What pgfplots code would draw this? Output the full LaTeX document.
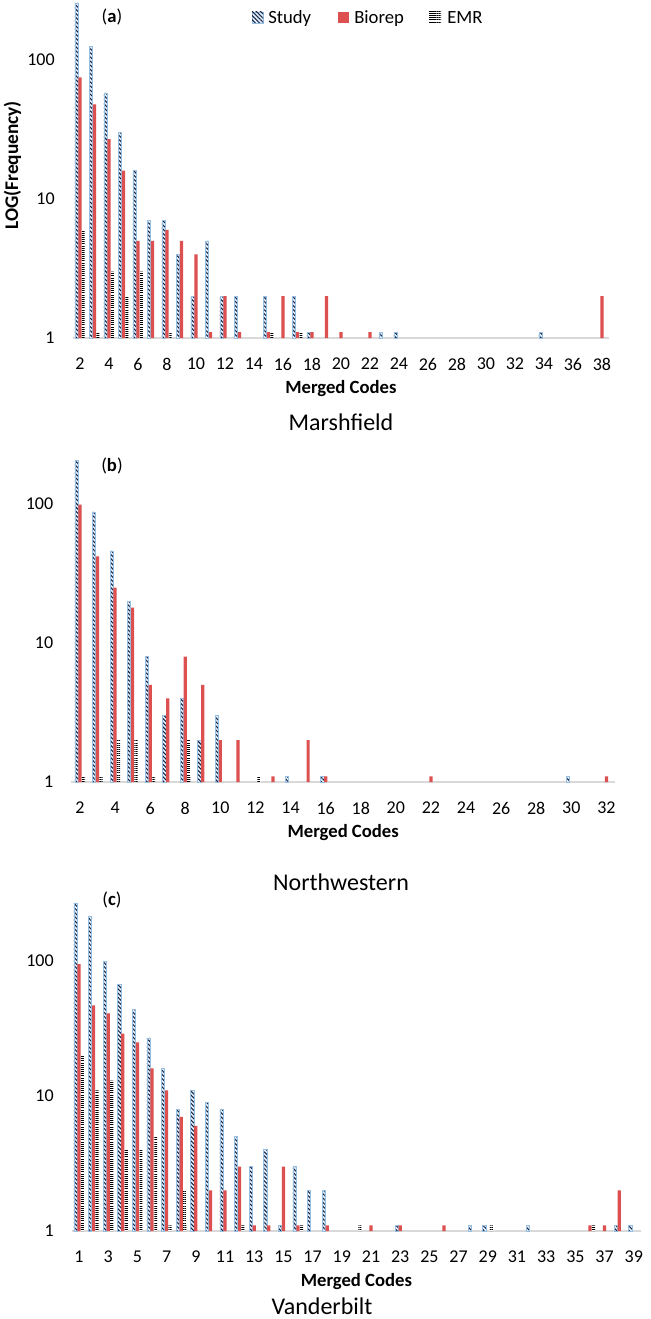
\documentclass[border=0pt]{standalone}
\usepackage{pgfplots}
\pgfplotsset{compat=1.18}
\usepackage{fontspec}
\setmainfont{Carlito}
\usetikzlibrary{patterns.meta}

\definecolor{studyedge}{RGB}{150,190,225}
\definecolor{studyfill}{RGB}{228,240,250}
\definecolor{studyhatch}{RGB}{20,35,70}
\definecolor{biorep}{RGB}{220,80,80}
\definecolor{axisgray}{RGB}{217,217,217}

\pgfplotsset{
  every axis/.append style={
    scale only axis,
    ybar=0.2pt, bar width=2.4pt,
    ymin=1,
    ytick={1,10,100}, yticklabels={1,10,100},
    axis x line*=bottom, axis y line*=left,
    x axis line style={draw=axisgray, line width=0.9pt},
    y axis line style={draw=none},
    major tick length=0pt,
    tick style={draw=none},
    ticklabel style={font=\fontsize{13.5}{15}\selectfont},
    yticklabel style={xshift=-10pt},
    xticklabel style={anchor=center, yshift=-19.5pt},
    /pgf/number format/assume math mode=true,
    xlabel={Merged Codes},
    xlabel style={font=\bfseries\fontsize{14}{16}\selectfont,
      at={(axis description cs:0.5,0)}, anchor=center, yshift=-38.25pt},
  },
}
\tikzset{
  studybar/.style={fill=studyfill, draw=studyedge, line width=0.4pt,
    postaction={pattern={Lines[angle=-45,distance=2.2pt,line width=0.8pt]},
      pattern color=studyhatch}},
  biobar/.style={fill=biorep, draw=none},
  emrbar/.style={fill=white, draw=none,
    postaction={pattern={Lines[angle=0,distance=1.6pt,line width=0.55pt]},
      pattern color=black}},
  legtext/.style={anchor=base west, inner sep=0pt, font=\fontsize{14}{16}\selectfont},
}

\begin{document}
\begin{tikzpicture}
\path[use as bounding box] (0,0) rectangle (487.5pt,-989.25pt);

% (a) Marshfield
\begin{axis}[ymode=log,
  at={(54.5pt,-253.5pt)}, anchor=south west,
  width=402.4pt, height=253.5pt,
  xmin=1.5, xmax=38.5, ymax=270,
  xtick={2,4,...,38},
]
\addplot[studybar] coordinates {(2,257) (3,125) (4,58) (5,30) (6,16) (7,7) (8,7)
  (9,4) (10,2) (11,5) (12,2) (13,2) (15,2) (17,2) (18,1.1) (23,1.1) (24,1.1) (34,1.1)};
\addplot[biobar] coordinates {(2,75) (3,48) (4,27) (5,16) (6,5) (7,5) (8,6) (9,5)
  (10,4) (11,1.1) (12,2) (13,1.1) (15,1.1) (16,2) (17,1.1) (18,1.1) (19,2)
  (20,1.1) (22,1.1) (38,2)};
\addplot[emrbar] coordinates {(2,6) (3,1.1) (4,3) (5,2) (6,3) (8,1.1) (15,1.1) (17,1.1)};
\end{axis}

% (b) Northwestern
\begin{axis}[ymode=log,
  at={(53.4pt,-586.5pt)}, anchor=south west,
  width=408pt, height=247.5pt,
  xmin=1.5, xmax=32.5, ymax=237,
  xtick={2,4,...,32},
]
\addplot[studybar] coordinates {(2,205) (3,88) (4,46) (5,20) (6,8) (7,3) (8,4)
  (9,2) (10,3) (14,1.1) (16,1.1) (30,1.1)};
\addplot[biobar] coordinates {(2,99) (3,42) (4,25) (5,18) (6,5) (7,4) (8,8) (9,5)
  (10,2) (11,2) (13,1.1) (15,2) (16,1.1) (22,1.1) (32,1.1)};
\addplot[emrbar] coordinates {(2,1.1) (3,1.1) (4,2) (5,2) (6,1.1) (8,2) (12,1.1)};
\end{axis}

% (c) Vanderbilt
\begin{axis}[ymode=log,
  at={(53.8pt,-923.25pt)}, anchor=south west,
  width=427pt, height=248.25pt,
  xmin=0.5, xmax=39.5, ymax=283,
  xtick={1,3,...,39},
]
\addplot[studybar] coordinates {(1,270) (2,215) (3,100) (4,67) (5,44) (6,27) (7,16)
  (8,8) (9,11) (10,9) (11,8) (12,5) (13,3) (14,4) (15,1.1) (16,3) (17,2) (18,2)
  (23,1.1) (28,1.1) (29,1.1) (32,1.1) (38,1.1) (39,1.1)};
\addplot[biobar] coordinates {(1,95) (2,47) (3,41) (4,29) (5,25) (6,16) (7,11) (8,7)
  (9,6) (10,2) (11,2) (12,3) (13,1.1) (14,1.1) (15,3) (16,1.1) (18,1.1) (21,1.1)
  (23,1.1) (26,1.1) (36,1.1) (37,1.1) (38,2)};
\addplot[emrbar] coordinates {(1,20) (2,11) (3,13) (4,4) (5,4) (6,5) (7,1.1) (8,2)
  (12,1.1) (16,1.1) (20,1.1) (29,1.1) (36,1.1)};
\end{axis}

% legend of panel (a)
\path[studybar] (189pt,-9pt) rectangle (197.25pt,-17.25pt);
\node[legtext] at (201pt,-18pt) {Study};
\path[biobar] (253.5pt,-9pt) rectangle (261.75pt,-17.25pt);
\node[legtext] at (265.5pt,-18pt) {Biorep};
\path[emrbar] (321.75pt,-9pt) rectangle (330.75pt,-17.25pt);
\node[legtext] at (335.25pt,-18pt) {EMR};

% labels
\node[rotate=90, font=\bfseries\fontsize{14.5}{16}\selectfont] at (9.4pt,-124pt) {LOG(Frequency)};
\node[font=\fontsize{14}{16}\selectfont] at (84pt,-13pt) {(\textbf{a})};
\node[font=\fontsize{14}{16}\selectfont] at (84pt,-349.5pt) {(\textbf{b})};
\node[font=\fontsize{14}{16}\selectfont] at (84pt,-675pt) {(\textbf{c})};
\node[font=\fontsize{18}{20}\selectfont] at (255.75pt,-317pt) {Marshfield};
\node[font=\fontsize{18}{20}\selectfont] at (255.75pt,-661.5pt) {Northwestern};
\node[font=\fontsize{18}{20}\selectfont, anchor=base, inner sep=0pt] at (241.5pt,-985.5pt) {Vanderbilt};
\end{tikzpicture}
\end{document}
